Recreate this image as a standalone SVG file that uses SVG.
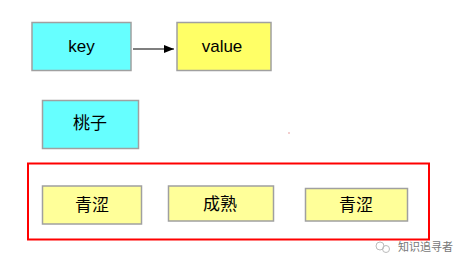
<svg xmlns="http://www.w3.org/2000/svg" width="468" height="270" viewBox="0 0 468 270">
<style>
.box{stroke:#a0a0a0;stroke-width:1.5}
.cyan{fill:#66ffff}
.yel{fill:#ffff66}
.ly{fill:#ffff99}
.t{font-family:"Liberation Sans","Noto Sans CJK SC",sans-serif;font-size:17px;fill:#000;text-anchor:middle;dominant-baseline:central}
.wm{font-family:"Noto Sans CJK SC",sans-serif;font-size:11px;fill:#777}
</style>
<defs>
<marker id="ah" markerWidth="10" markerHeight="8" refX="10" refY="4" orient="auto" markerUnits="userSpaceOnUse">
<path d="M0,0 L10,4 L0,8 z" fill="#000"/>
</marker>
</defs>
<rect width="468" height="270" fill="#fff"/>
<g id="key"><rect class="box cyan" x="32" y="22.5" width="99" height="48"/><text class="t" x="81.5" y="46.5">key</text></g>
<g id="value"><rect class="box yel" x="177" y="22.5" width="94" height="48"/><text class="t" x="222" y="46.5">value</text></g>
<g id="taozi"><rect class="box cyan" x="42.5" y="100.5" width="96" height="48"/><text class="t" x="90" y="123.5">桃子</text></g>
<g id="group"><rect x="28" y="163.5" width="401" height="76" fill="none" stroke="#ff0000" stroke-width="2"/></g>
<g id="qingse1"><rect class="box ly" x="42.5" y="186" width="99" height="38"/><text class="t" x="92" y="205">青涩</text></g>
<g id="chengshu"><rect class="box ly" x="168.5" y="186" width="105" height="35"/><text class="t" x="220" y="204">成熟</text></g>
<g id="qingse2"><rect class="box ly" x="305.5" y="188.5" width="102" height="32.5"/><text class="t" x="356" y="205">青涩</text></g>
<g id="connectors"><line x1="133" y1="49" x2="174" y2="49" stroke="#000" stroke-width="1.2" marker-end="url(#ah)"/></g>
<rect x="288.5" y="132.5" width="1" height="1" fill="#d04040"/>
<g id="watermark">
<circle cx="380" cy="246" r="4" fill="none" stroke="#bbb" stroke-width="1"/>
<circle cx="386" cy="249" r="3.5" fill="none" stroke="#bbb" stroke-width="1"/>
<text class="wm" x="398" y="251">知识追寻者</text>
</g>
</svg>
